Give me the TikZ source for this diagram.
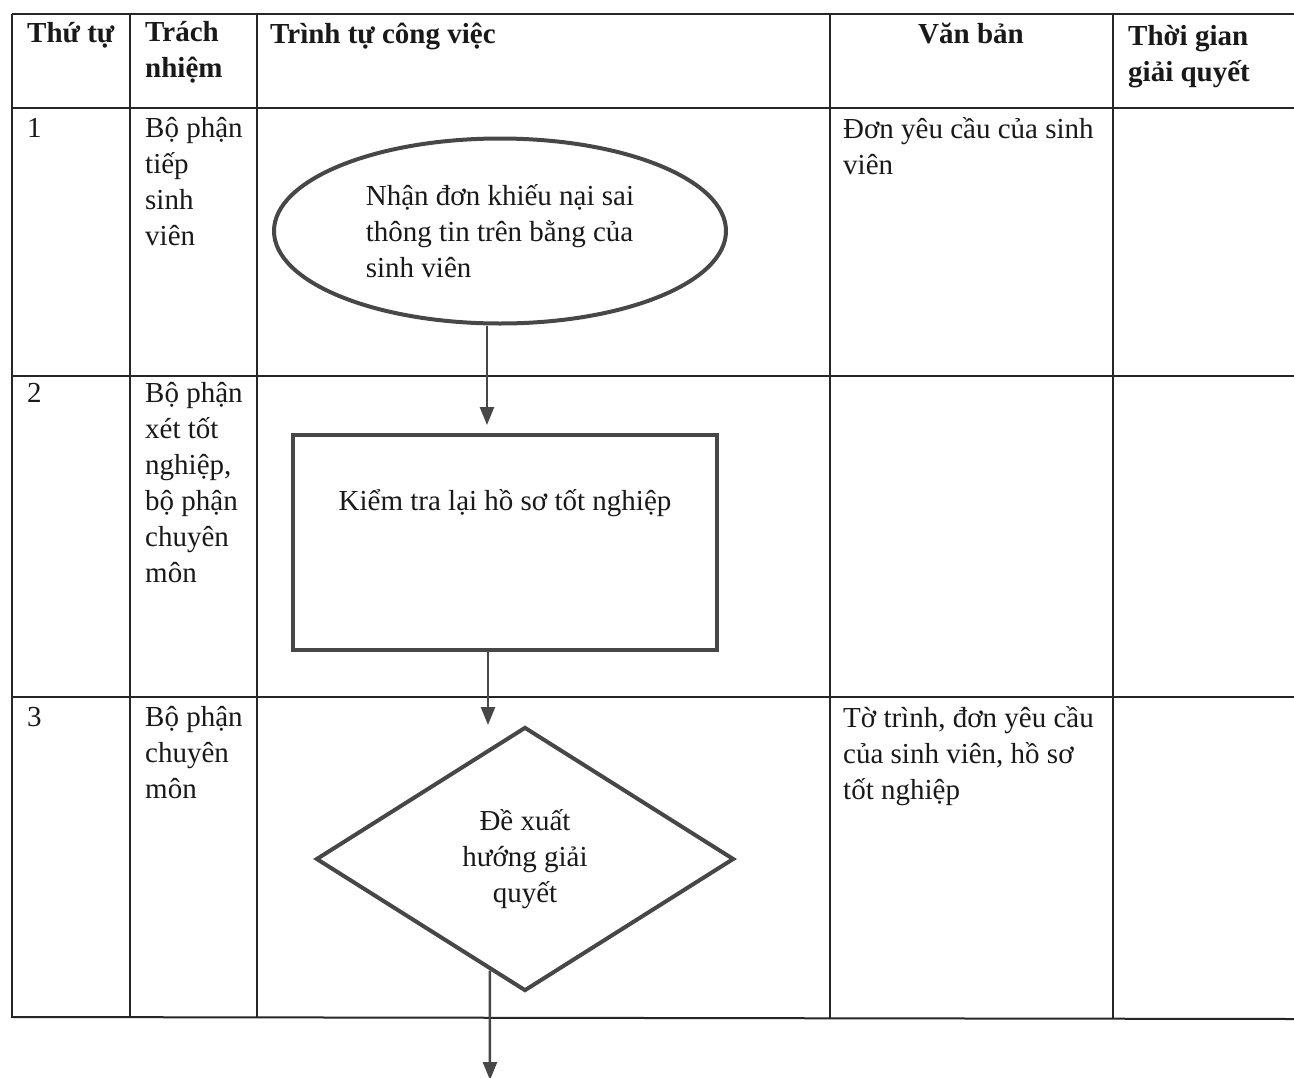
\documentclass[tikz,border=0pt]{standalone}
\usepackage{fontspec}
\setmainfont{Liberation Serif}
\usetikzlibrary{shapes.geometric,arrows.meta,calc}
\newcommand\tx{\fontsize{29}{36}\selectfont}
\begin{document}
\begin{tikzpicture}[x=1pt,y=-1pt,
  grid/.style={line width=2pt, draw=black!85},
  txt/.style={anchor=base west, inner sep=0pt, align=left, font=\tx, text=black!90},
  hd/.style={txt, font=\tx\bfseries},
  shp/.style={draw=black!72, line width=4pt, font=\tx, text=black!90},
  arr/.style={draw=black!72, line width=2.5pt, -{Triangle[length=18pt,width=14pt]}}]
\useasboundingbox (0,0) rectangle (1294,1077);
\fill[white] (0,0) rectangle (1294,1077);
% table
\draw[grid] (12,14) -- (1294,14);
\draw[grid] (12,108) -- (1294,108);
\draw[grid] (12,376) -- (1294,376);
\draw[grid] (12,697) -- (1294,697);
\draw[grid] (12,1017) -- (1294,1019);
\foreach \x in {12,130,257,830,1113} \draw[grid] (\x,14) -- (\x,1018);
% header (multi-line nodes: base anchor = last line)
\node[hd] (h1) at (27,42) {Thứ tự};
\node[hd] (h2) at (145,77) {Trách\\nhiệm};
\node[hd] (h3) at (270,43) {Trình tự công việc};
\node[hd, anchor=base] (h4) at (971,43) {Văn bản};
\node[hd] (h5) at (1128,81) {Thời gian\\giải quyết};
% row 1
\node[txt] (n1) at (27,137) {1};
\node[txt] (t1) at (145,245) {Bộ phận\\tiếp\\sinh\\viên};
\node[txt] (v1) at (843,174) {Đơn yêu cầu của sinh\\viên};
% row 2
\node[txt] (n2) at (27,402) {2};
\node[txt] (t2) at (145,582) {Bộ phận\\xét tốt\\nghiệp,\\bộ phận\\chuyên\\môn};
% row 3
\node[txt] (n3) at (27,726) {3};
\node[txt] (t3) at (145,798) {Bộ phận\\chuyên\\môn};
\node[txt] (v3) at (843,799) {Tờ trình, đơn yêu cầu\\của sinh viên, hồ sơ\\tốt nghiệp};
% flow
\node[shp, ellipse, minimum width=452pt, minimum height=185pt, inner sep=0pt, align=left] (e1) at (500,231)
  {Nhận đơn khiếu nại sai\\thông tin trên bằng của\\sinh viên};
\node[shp, rectangle, minimum width=424pt, minimum height=215pt, inner sep=0pt] (r2) at (505,542.5) {};
\node[anchor=base, font=\tx, text=black!90, inner sep=0pt] (r2t) at ($(r2.north)+(0,77)$) {Kiểm tra lại hồ sơ tốt nghiệp};
\node[shp, diamond, minimum width=418pt, minimum height=264pt, inner sep=0pt, align=center] (d3) at (525,859)
  {Đề xuất\\hướng giải\\quyết};
\coordinate (a1) at (487,0);
\coordinate (a2) at (488,0);
\coordinate (a3end) at (490,1080);
\draw[arr, shorten >=8pt] (e1.south -| a1) -- (r2.north -| a1);
\draw[arr] (r2.south -| a2) -- (d3.north -| a2);
\draw[arr] ($(d3.south)!0.167!(d3.west)$) -- (a3end);
\end{tikzpicture}
\end{document}
